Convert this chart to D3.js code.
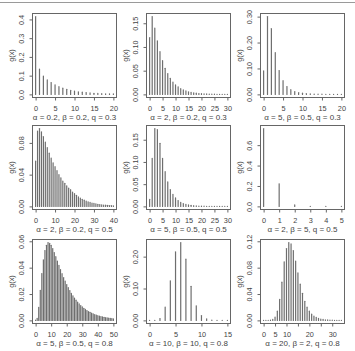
<!DOCTYPE html>
<html>
<head>
<meta charset="utf-8">
<script src="https://cdn.jsdelivr.net/npm/d3@7"></script>
<style>
  body { margin: 0; background: #fff; }
  svg { display: block; }
  text { font-family: "Liberation Sans", Arial, sans-serif; fill: #444; }
</style>
</head>
<body>
<svg id="chart" width="355" height="351"></svg>
<script>
// parameters of each panel (row by row)
var alphas = [0.2, 2, 5, 2, 5, 2, 5, 10, 20];
var betas  = [0.2, 0.2, 0.5, 0.2, 0.5, 5, 0.5, 10, 2];
var qs     = [0.3, 0.3, 0.3, 0.5, 0.5, 0.5, 0.8, 0.8, 0.8];

// g(x) for x = 0, 1, 2, ...
var g1 = [0.415, 0.135, 0.098, 0.077, 0.063, 0.051, 0.041, 0.033, 0.027, 0.022, 0.018,
          0.014, 0.012, 0.010, 0.008, 0.006, 0.005, 0.004, 0.0035, 0.003, 0.0025];
var g2 = [0.120, 0.164, 0.140, 0.113, 0.090, 0.071, 0.055, 0.044, 0.034, 0.026, 0.020,
          0.016, 0.012, 0.0095, 0.0072, 0.0055, 0.0042, 0.0032, 0.0025, 0.0019, 0.0015,
          0.0011, 0.0009, 0.0007, 0.0005, 0.0004, 0.0003, 0.00025, 0.0002, 0.00015, 0.0001];
var g3 = [0.091, 0.300, 0.254, 0.161, 0.092, 0.053, 0.030, 0.018, 0.011, 0.007, 0.0045,
          0.003, 0.002, 0.0014, 0.001, 0.0007, 0.0005, 0.0004, 0.0003, 0.0002, 0.0001];
var g4 = [0.057, 0.095, 0.098, 0.094, 0.088, 0.081, 0.074, 0.067, 0.061, 0.055, 0.050,
          0.045, 0.040, 0.036, 0.032, 0.029, 0.026, 0.023, 0.021, 0.018, 0.016,
          0.014, 0.012, 0.0105, 0.009, 0.0078, 0.0067, 0.0058, 0.005, 0.0043, 0.0037,
          0.0032, 0.0027, 0.0023, 0.002, 0.0017, 0.0015, 0.0013, 0.0011, 0.001, 0.0008];
var g5 = [0.016, 0.108, 0.175, 0.173, 0.142, 0.108, 0.078, 0.055, 0.038, 0.027, 0.019,
          0.013, 0.009, 0.0065, 0.0045, 0.0032, 0.0023, 0.0016, 0.0012, 0.0008, 0.0006,
          0.0004, 0.0003, 0.0002, 0.00015, 0.0001, 0.0001, 0.00005, 0.00005, 0.00003, 0.00002];
var g6 = [0.762, 0.222, 0.014, 0.0015, 0.0003, 0.0001];
var g7 = [0.0002, 0.0015, 0.0098, 0.0227, 0.0355, 0.046, 0.053, 0.057, 0.059, 0.0585, 0.057,
          0.0545, 0.0515, 0.0483, 0.045, 0.0417, 0.0385, 0.0354, 0.0325, 0.0298, 0.0272,
          0.0248, 0.0226, 0.0205, 0.0186, 0.0169, 0.0153, 0.0138, 0.0125, 0.0113, 0.0102,
          0.0092, 0.0083, 0.0075, 0.0067, 0.0061, 0.0055, 0.0049, 0.0044, 0.004, 0.0036,
          0.0032, 0.0029, 0.0026, 0.0023, 0.0021, 0.0019, 0.0017, 0.0015, 0.0014, 0.0012];
var g8 = [0, 0.0005, 0.006, 0.042, 0.124, 0.215, 0.244, 0.192, 0.107, 0.046, 0.015,
          0.005, 0.0012, 0.0003, 0.0001, 0];
var g9 = [0, 0, 0, 0.0003, 0.0015, 0.005, 0.014, 0.032, 0.058, 0.089, 0.109, 0.118, 0.116,
          0.106, 0.090, 0.072, 0.055, 0.041, 0.029, 0.020, 0.014, 0.0095, 0.0065, 0.0045,
          0.003, 0.002, 0.0014, 0.001, 0.0007, 0.0005, 0.0003, 0.0002, 0.00015, 0.0001, 0.0001];

// axis ticks
var xTicks = [
  [0, 5, 10, 15, 20], [0, 5, 10, 15, 20, 25, 30], [0, 5, 10, 15, 20],
  [0, 10, 20, 30, 40], [0, 5, 10, 15, 20, 25, 30], [0, 1, 2, 3, 4, 5],
  [0, 10, 20, 30, 40, 50], [0, 5, 10, 15], [0, 5, 10, 15, 20, 25, 30]
];
var xTickLabels = [
  ["0", "5", "10", "15", "20"], ["0", "5", "10", "15", "20", "25", "30"], ["0", "5", "10", "15", "20"],
  ["0", "10", "20", "30", "40"], ["0", "5", "10", "15", "20", "25", "30"], ["0", "1", "2", "3", "4", "5"],
  ["0", "10", "20", "30", "40", "50"], ["0", "5", "10", "15"], ["0", "5", "10", "", "20", "", "30"]
];
var yTicks = [
  [0, 0.1, 0.2, 0.3, 0.4], [0, 0.05, 0.10, 0.15], [0, 0.10, 0.20, 0.30],
  [0, 0.04, 0.08], [0, 0.05, 0.10, 0.15], [0, 0.2, 0.4, 0.6],
  [0, 0.02, 0.04, 0.06], [0, 0.10, 0.20], [0, 0.04, 0.08, 0.12]
];
var yTickLabels = [
  ["0.0", "0.1", "0.2", "0.3", "0.4"], ["0.00", "0.05", "0.10", "0.15"], ["0.00", "0.10", "0.20", "0.30"],
  ["0.00", "0.04", "0.08"], ["0.00", "0.05", "0.10", "0.15"], ["0.0", "0.2", "0.4", "0.6"],
  ["0.00", "0.02", "0.04", "0.06"], ["0.00", "0.10", "0.20"], ["0.00", "0.04", "0.08", "0.12"]
];

var series = [g1, g2, g3, g4, g5, g6, g7, g8, g9];

var svg = d3.select("#chart");

// thin frame line at the top of the figure
svg.append("line")
    .attr("x1", 0).attr("x2", 355)
    .attr("y1", 2.5).attr("y2", 2.5)
    .attr("stroke", "#9a9a9a")
    .attr("stroke-width", 1);

var colLeft = [32.5, 146.5, 260.5],
    rowTop = [13.5, 125.5, 239.5],
    boxW = 84,
    boxH = 84;

series.forEach(function (data, i) {
    var col = i % 3, row = Math.floor(i / 3);
    var xMax = data.length - 1,
        yMax = d3.max(data);

    // R-style 4% padding on both axes
    var x = d3.scaleLinear()
        .domain([-0.04 * xMax, 1.04 * xMax])
        .range([0, boxW]);
    var y = d3.scaleLinear()
        .domain([-0.04 * yMax, 1.04 * yMax])
        .range([boxH, 0]);

    var g = svg.append("g")
        .attr("transform", "translate(" + colLeft[col] + "," + rowTop[row] + ")");

    // spikes
    g.selectAll(".spike")
        .data(data)
        .enter()
        .append("line")
        .attr("class", "spike")
        .attr("x1", function (d, k) { return x(k); })
        .attr("x2", function (d, k) { return x(k); })
        .attr("y1", y(0))
        .attr("y2", function (d) { return y(d); })
        .attr("stroke", "#6e6e6e")
        .attr("stroke-width", 1.2)
        .attr("stroke-linecap", "round");

    // box
    g.append("rect")
        .attr("width", boxW)
        .attr("height", boxH)
        .attr("fill", "none")
        .attr("stroke", "#666")
        .attr("stroke-width", 1);

    // x axis
    var xl = xTickLabels[i];
    var xa = g.append("g")
        .attr("transform", "translate(0," + boxH + ")")
        .call(d3.axisBottom(x)
            .tickValues(xTicks[i])
            .tickSize(3)
            .tickPadding(5)
            .tickSizeOuter(0)
            .tickFormat(function (d, k) { return xl[k]; }));
    xa.select(".domain").remove();
    xa.selectAll("line").attr("stroke", "#666");
    xa.selectAll("text")
        .attr("font-size", "7.3px")
        .attr("fill", "#444")
        .attr("font-family", "Liberation Sans, Arial, sans-serif");

    // y axis, labels parallel to the axis
    var yl = yTickLabels[i];
    var ya = g.append("g")
        .call(d3.axisLeft(y)
            .tickValues(yTicks[i])
            .tickSize(3)
            .tickSizeOuter(0)
            .tickFormat(function (d, k) { return yl[k]; }));
    ya.select(".domain").remove();
    ya.selectAll("line").attr("stroke", "#666");
    ya.selectAll("text")
        .attr("x", null)
        .attr("dy", null)
        .attr("text-anchor", "middle")
        .attr("transform", "translate(-8.5,0) rotate(-90)")
        .attr("font-size", "7.3px")
        .attr("fill", "#444")
        .attr("font-family", "Liberation Sans, Arial, sans-serif");

    // y label
    g.append("text")
        .attr("transform", "translate(-18.5," + (boxH / 2) + ") rotate(-90)")
        .attr("text-anchor", "middle")
        .attr("font-size", "7.3px")
        .text("g(x)");

    // parameter caption
    g.append("text")
        .attr("x", boxW / 2)
        .attr("y", boxH + 22.5)
        .attr("text-anchor", "middle")
        .attr("font-size", "8px")
        .text("\u03b1 = " + alphas[i] + ", \u03b2 = " + betas[i] + ", q = " + qs[i]);
});
</script>
</body>
</html>
